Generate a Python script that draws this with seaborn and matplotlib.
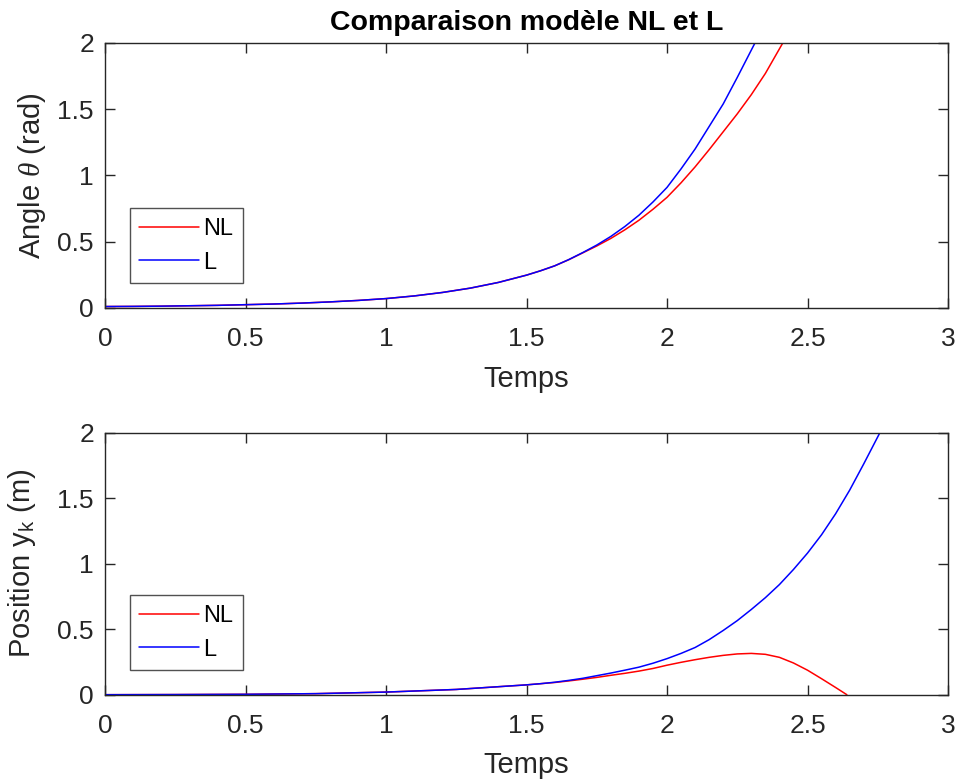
import numpy as np
import pandas as pd
import matplotlib
matplotlib.use("Agg")
import matplotlib.pyplot as plt
import seaborn as sns

# ---- data ----
t_base = [0.0, 0.1, 0.2, 0.3, 0.4, 0.5, 0.6, 0.7, 0.8, 0.9, 1.0, 1.1, 1.2, 1.3, 1.4, 1.5, 1.55]
theta_base = [0.011, 0.012, 0.014, 0.017, 0.020, 0.025, 0.030, 0.037, 0.046, 0.057,
              0.071, 0.091, 0.117, 0.150, 0.193, 0.248, 0.281]

t_theta_L_tail = [1.6, 1.65, 1.7, 1.75, 1.8, 1.85, 1.9, 1.95, 2.0, 2.05, 2.1, 2.15,
                  2.2, 2.25, 2.313]
theta_L_tail = [0.318, 0.365, 0.418, 0.475, 0.54, 0.615, 0.70, 0.80, 0.91, 1.05, 1.20,
                1.37, 1.54, 1.74, 2.0]

t_theta_NL_tail = [1.6, 1.65, 1.7, 1.75, 1.8, 1.85, 1.9, 1.95, 2.0, 2.05, 2.1, 2.15,
                   2.2, 2.25, 2.3, 2.35, 2.412]
theta_NL_tail = [0.318, 0.364, 0.416, 0.468, 0.525, 0.59, 0.662, 0.745, 0.835, 0.945,
                 1.065, 1.195, 1.33, 1.465, 1.61, 1.77, 2.0]

t_pos_base = [0.0, 0.25, 0.5, 0.75, 1.0, 1.25, 1.5, 1.55]
pos_base = [0.0, 0.001, 0.003, 0.008, 0.020, 0.040, 0.075, 0.084]

t_pos_L_tail = [1.6, 1.65, 1.7, 1.75, 1.8, 1.85, 1.9, 1.95, 2.0, 2.05, 2.1, 2.15, 2.2,
                2.25, 2.3, 2.35, 2.4, 2.45, 2.5, 2.55, 2.6, 2.65, 2.7, 2.758]
pos_L_tail = [0.095, 0.109, 0.125, 0.145, 0.165, 0.187, 0.21, 0.24, 0.275, 0.315, 0.36,
              0.42, 0.49, 0.565, 0.65, 0.74, 0.84, 0.955, 1.08, 1.22, 1.38, 1.56, 1.76, 2.0]

t_pos_NL_tail = [1.6, 1.65, 1.7, 1.75, 1.8, 1.85, 1.9, 1.95, 2.0, 2.05, 2.1, 2.15, 2.2,
                 2.25, 2.3, 2.35, 2.4, 2.45, 2.5, 2.55, 2.6, 2.64]
pos_NL_tail = [0.093, 0.105, 0.118, 0.132, 0.148, 0.163, 0.18, 0.20, 0.225, 0.247, 0.267,
               0.285, 0.30, 0.311, 0.315, 0.308, 0.285, 0.242, 0.187, 0.122, 0.055, 0.0]

xticks = [0, 0.5, 1, 1.5, 2, 2.5, 3]
yticks = [0, 0.5, 1, 1.5, 2]
xtick_labels = ["0", "0.5", "1", "1.5", "2", "2.5", "3"]
ytick_labels = ["0", "0.5", "1", "1.5", "2"]

# ---- style ----
sns.set_theme(style="white")
plt.rcParams["font.family"] = ["Liberation Sans", "DejaVu Sans"]
plt.rcParams["mathtext.fontset"] = "custom"
plt.rcParams["mathtext.rm"] = "Liberation Sans"
plt.rcParams["mathtext.it"] = "Liberation Serif:italic"

fig = plt.figure(figsize=(9.57, 7.8), dpi=100)
W, H = 957, 780
ax1 = fig.add_axes([105 / W, 1 - 308 / H, 843 / W, 265 / H])
ax2 = fig.add_axes([105 / W, 1 - 694.7 / H, 843 / W, 262.2 / H])

def tail_df(tb, vb, tt, vt, name):
    return pd.DataFrame({"t": list(tb) + list(tt), "v": list(vb) + list(vt), "s": name})

top_NL = tail_df(t_base, theta_base, t_theta_NL_tail, theta_NL_tail, "NL")
top_L = tail_df(t_base, theta_base, t_theta_L_tail, theta_L_tail, "L")
bot_NL = tail_df(t_pos_base, pos_base, t_pos_NL_tail, pos_NL_tail, "NL")
bot_L = tail_df(t_pos_base, pos_base, t_pos_L_tail, pos_L_tail, "L")

axis_col = "#262626"
for ax, dNL, dL, ylab, ylx in [
    (ax1, top_NL, top_L, r"Angle $\theta$ (rad)", -0.068),
    (ax2, bot_NL, bot_L, r"Position y$_{\mathrm{k}}$ (m)", -0.080),
]:
    sns.lineplot(data=dNL, x="t", y="v", color="#ff0000", lw=1.1, label="NL",
                 ax=ax, estimator=None, sort=False)
    sns.lineplot(data=dL, x="t", y="v", color="#0000ff", lw=1.1, label="L",
                 ax=ax, estimator=None, sort=False)
    ax.set_xlim(0, 3)
    ax.set_ylim(0, 2)
    ax.set_xticks(xticks)
    ax.set_xticklabels(xtick_labels)
    ax.set_yticks(yticks)
    ax.set_yticklabels(ytick_labels)
    ax.tick_params(direction="in", length=7, width=1, colors=axis_col,
                   labelsize=19, top=True, right=True, bottom=True, left=True)
    ax.tick_params(axis="x", pad=14)
    ax.tick_params(axis="y", pad=8)
    for lab in ax.get_xticklabels() + ax.get_yticklabels():
        lab.set_color(axis_col)
    for sp in ax.spines.values():
        sp.set_visible(True)
        sp.set_color(axis_col)
        sp.set_linewidth(1)
    ax.set_xlabel("Temps", fontsize=21, color=axis_col)
    ax.set_ylabel(ylab, fontsize=21, color=axis_col)
    ax.xaxis.set_label_coords(0.5, -0.215)
    ax.yaxis.set_label_coords(ylx, 0.5)
    leg = ax.legend(loc="lower left", bbox_to_anchor=(0.0297, 0.094), borderaxespad=0,
                    fontsize=17, frameon=True, fancybox=False, edgecolor=axis_col,
                    handlelength=2.5, handletextpad=0.2, borderpad=0.4,
                    labelspacing=0.5)
    leg.get_frame().set_linewidth(1)
    for txt in leg.get_texts():
        txt.set_color("black")

ax1.set_title("Comparaison modèle NL et L", fontsize=20.5, fontweight="bold",
              pad=9, color="black")

fig.savefig("out.png", dpi=100)
